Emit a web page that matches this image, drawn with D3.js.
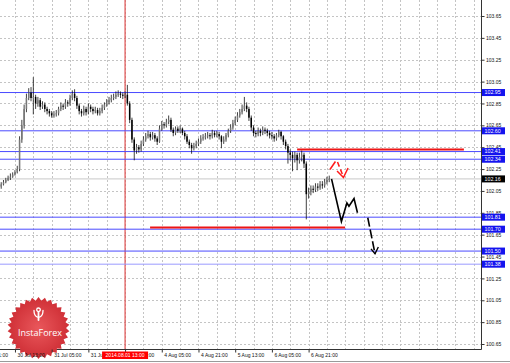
<!DOCTYPE html>
<html><head><meta charset="utf-8">
<script src="https://cdn.jsdelivr.net/npm/d3@7"></script>
<style>html,body{margin:0;padding:0;background:#fff;}svg{display:block;font-family:"Liberation Sans",Arial,sans-serif;}</style>
</head><body><svg id="c" width="510" height="363"></svg>
<script>
// ---- data ----
const firstOpen = 102.09;
const closes = [
102.11,102.13,102.15,102.17,102.18,102.20,102.22,102.25,
102.52,102.65,102.80,102.90,102.95,102.90,102.91,
102.85,102.88,102.82,102.84,102.80,102.78,
102.76,102.74,102.75,102.76,
102.80,102.83,102.82,102.86,102.85,102.90,102.94,102.90,102.83,102.78,102.76,
102.80,102.77,102.82,102.80,102.78,
102.79,102.76,102.78,102.81,
102.84,102.86,102.88,102.90,102.91,102.93,102.94,102.93,102.92,
102.93,102.85,102.70,102.52,102.42,
102.45,102.43,102.48,102.52,102.55,
102.57,102.54,102.56,102.53,102.50,
102.62,102.66,102.65,102.68,102.70,
102.61,102.58,102.62,102.60,102.62,102.58,
102.55,102.50,102.47,102.44,102.46,
102.48,102.50,102.53,102.54,102.55,102.56,102.55,
102.58,102.56,102.57,102.55,102.50,
102.52,102.56,102.60,102.63,102.67,
102.70,102.74,102.77,102.80,102.83,102.80,
102.72,102.63,102.58,
102.57,102.60,102.58,102.61,102.60,
102.58,102.56,102.55,102.53,102.56,102.59,
102.55,102.50,102.46,
102.40,102.38,102.35,102.38,102.33,102.36,
102.38,102.30,
102.02,
102.04,102.07,102.06,102.09,102.08,102.11,102.10,102.13,102.15,102.16];
const highs = [
102.13,102.15,102.17,102.19,102.21,102.22,102.24,102.28,
102.55,102.70,102.84,102.94,102.99,103.00,103.09,
102.93,102.91,102.90,102.87,102.86,102.82,
102.80,102.78,102.78,102.79,
102.82,102.86,102.85,102.89,102.88,102.93,102.97,102.98,102.92,102.85,102.80,
102.83,102.82,102.85,102.84,102.82,
102.82,102.81,102.81,102.84,
102.86,102.89,102.91,102.93,102.94,102.96,102.97,102.96,102.95,
102.96,103.02,102.87,102.72,102.54,
102.48,102.47,102.51,102.55,102.58,
102.60,102.59,102.59,102.58,102.55,
102.65,102.69,102.68,102.71,102.74,
102.72,102.63,102.64,102.64,102.65,102.63,
102.60,102.57,102.52,102.49,102.49,
102.51,102.53,102.56,102.57,102.58,102.59,102.58,
102.61,102.60,102.60,102.59,102.56,
102.55,102.58,102.62,102.66,102.70,
102.73,102.77,102.80,102.84,102.91,102.86,
102.82,102.74,102.65,
102.60,102.63,102.62,102.64,102.63,
102.62,102.60,102.59,102.57,102.58,102.61,
102.60,102.56,102.52,
102.48,102.43,102.41,102.41,102.40,102.40,
102.42,102.40,
102.32,
102.08,102.10,102.10,102.12,102.12,102.14,102.14,102.16,102.18,102.19];
const lows = [
102.07,102.10,102.12,102.14,102.15,102.17,102.19,102.21,
102.23,102.49,102.62,102.77,102.88,102.87,102.75,
102.80,102.82,102.79,102.80,102.77,102.75,
102.73,102.72,102.72,102.73,
102.74,102.78,102.79,102.80,102.82,102.83,102.88,102.87,102.80,102.75,102.73,
102.74,102.74,102.75,102.77,102.75,
102.76,102.74,102.74,102.76,
102.79,102.82,102.84,102.86,102.88,102.89,102.91,102.90,102.89,
102.90,102.83,102.67,102.49,102.33,
102.39,102.40,102.41,102.46,102.50,
102.53,102.51,102.52,102.50,102.47,
102.49,102.60,102.62,102.63,102.66,
102.59,102.55,102.56,102.58,102.58,102.56,
102.52,102.48,102.44,102.39,102.42,
102.44,102.46,102.48,102.51,102.52,102.53,102.52,
102.53,102.54,102.54,102.52,102.44,
102.48,102.50,102.54,102.58,102.61,
102.65,102.68,102.72,102.75,102.78,102.77,
102.69,102.60,102.55,
102.54,102.55,102.55,102.56,102.57,
102.55,102.53,102.52,102.50,102.51,102.54,
102.52,102.47,102.43,
102.30,102.33,102.23,102.31,102.24,102.30,
102.32,102.26,
101.79,
101.98,102.01,102.03,102.04,102.05,102.06,102.07,102.08,102.11,102.13];

const priceTicks = [100.65,100.85,101.05,101.25,101.45,101.65,101.85,102.05,102.25,102.45,102.65,102.85,103.05,103.25,103.45,103.65];
const timeTickIdx = [-10,6,22,38,54,70,86,102,118,134];
const timeTickLabels = ["29 Jul 21:00","30 Jul 13:00","31 Jul 05:00","31 Jul 21:00","1 Aug 13:00","4 Aug 05:00","4 Aug 21:00","5 Aug 13:00","6 Aug 05:00","6 Aug 21:00"];
const levelPrices = [102.95,102.60,102.41,102.34,101.81,101.70,101.50,101.38];
const levelColors = ["#4a4aff","#4a4aff","#4a4aff","#4a4aff","#4a4aff","#4a4aff","#4a4aff","#9a9aff"];
const bidPrice = 102.16;
const markerIdx = 54;
const markerLabel = "2014.08.01 13:00";
const redLevelPrices = [102.43, 101.715];
const redLevelStart = [129, 64.9];
const redLevelEnd = [201.7, 149.9];
const blackPathIdx = [144.0,148.3,150.7,151.6,153.8,155.3];
const blackPathPx  = [102.16,101.77,101.94,101.91,101.98,101.85];
const blackDashIdx = [159.8,162.95];
const blackDashPx  = [101.805,101.476];
const blackHeadIdx = [161.2,162.95,164.4];
const blackHeadPx  = [101.52,101.476,101.537];
const redStrokeIdx = [143.3,145.7];
const redStrokePx  = [102.246,102.319];
const redDashIdx = [146.6,149.2];
const redDashPx  = [102.315,102.177];
const redHeadIdx = [146.4,149.2,151.2];
const redHeadPx  = [102.232,102.173,102.26];

// ---- chart ----
const svg = d3.select("#c");
const plotR = 481, plotB = 349;
const x = d3.scaleLinear().domain([0,210]).range([1.2, 1.2 + 210*2.294]);
const y = d3.scaleLinear().domain([100.65,103.65]).range([344,16]);

const defs = svg.append("defs");
defs.append("clipPath").attr("id","plot").append("rect").attr("x",0).attr("y",0).attr("width",plotR).attr("height",plotB);
const rg = defs.append("radialGradient").attr("id","star");
rg.append("stop").attr("offset","0%").attr("stop-color","#e9575b");
rg.append("stop").attr("offset","100%").attr("stop-color","#cf2f36");

const plot = svg.append("g").attr("clip-path","url(#plot)");

// grid
plot.selectAll(".hg").data(priceTicks).enter().append("line")
  .attr("x1",0).attr("x2",plotR).attr("y1",d=>Math.round(y(d))+0.5).attr("y2",d=>Math.round(y(d))+0.5)
  .attr("stroke","#c4c4c4").attr("stroke-dasharray","2,2").attr("stroke-width",1);
const vIdx = d3.range(-2, 212, 8);
plot.selectAll(".vg").data(vIdx).enter().append("line")
  .attr("x1",d=>Math.round(x(d))+0.5).attr("x2",d=>Math.round(x(d))+0.5).attr("y1",0).attr("y2",plotB)
  .attr("stroke","#c4c4c4").attr("stroke-dasharray","2,2").attr("stroke-width",1);

// red vertical marker
plot.append("line").attr("x1",x(markerIdx)).attr("x2",x(markerIdx)).attr("y1",0).attr("y2",plotB)
  .attr("stroke","#e05050").attr("stroke-width",1.2);

// blue levels
plot.selectAll(".lvl").data(levelPrices).enter().append("line")
  .attr("x1",0).attr("x2",plotR).attr("y1",d=>y(d)).attr("y2",d=>y(d))
  .attr("stroke",(d,i)=>levelColors[i]).attr("stroke-width",1);
// bid line
plot.append("line").attr("x1",0).attr("x2",plotR).attr("y1",y(bidPrice)).attr("y2",y(bidPrice))
  .attr("stroke","#c8c8c8").attr("stroke-width",1);

// candles
const candles = closes.map((c,i)=>({i, o: i===0?firstOpen:closes[i-1], c, h: highs[i], l: lows[i]}));
const cg = plot.append("g");
cg.selectAll(".wick").data(candles).enter().append("line")
  .attr("x1",d=>x(d.i)).attr("x2",d=>x(d.i)).attr("y1",d=>y(d.h)).attr("y2",d=>y(d.l))
  .attr("stroke","#111").attr("stroke-width",0.8);
cg.selectAll(".body").data(candles).enter().append("rect")
  .attr("x",d=>x(d.i)-0.75).attr("width",1.5)
  .attr("y",d=>y(Math.max(d.o,d.c)))
  .attr("height",d=>Math.max(0.8, Math.abs(y(d.o)-y(d.c))))
  .attr("fill",d=>d.c>=d.o?"#777":"#000");

// red horizontal lines
plot.selectAll(".rl").data(redLevelPrices).enter().append("line")
  .attr("x1",(d,i)=>x(redLevelStart[i])).attr("x2",(d,i)=>x(redLevelEnd[i]))
  .attr("y1",d=>y(d)).attr("y2",d=>y(d))
  .attr("stroke","#ee1515").attr("stroke-width",2);

// arrows
const ln = (ix, px) => d3.line()(ix.map((v,k)=>[x(v), y(px[k])]));
plot.append("path").attr("d",ln(blackPathIdx,blackPathPx)).attr("fill","none").attr("stroke","#000").attr("stroke-width",1.6).attr("stroke-linejoin","miter");
plot.append("path").attr("d",ln(blackDashIdx,blackDashPx)).attr("fill","none").attr("stroke","#000").attr("stroke-width",1.6).attr("stroke-dasharray","9,3");
plot.append("path").attr("d",ln(blackHeadIdx,blackHeadPx)).attr("fill","none").attr("stroke","#000").attr("stroke-width",1.4);
plot.append("path").attr("d",ln(redStrokeIdx,redStrokePx)).attr("fill","none").attr("stroke","#ff1a1a").attr("stroke-width",1.5);
plot.append("path").attr("d",ln(redDashIdx,redDashPx)).attr("fill","none").attr("stroke","#ff1a1a").attr("stroke-width",1.5).attr("stroke-dasharray","5,3");
plot.append("path").attr("d",ln(redHeadIdx,redHeadPx)).attr("fill","none").attr("stroke","#ff1a1a").attr("stroke-width",1.5);

// axis lines
svg.append("line").attr("x1",plotR+0.5).attr("x2",plotR+0.5).attr("y1",0).attr("y2",plotB+0.5).attr("stroke","#333");
svg.append("line").attr("x1",0).attr("x2",plotR+0.5).attr("y1",plotB+0.5).attr("y2",plotB+0.5).attr("stroke","#333");
svg.append("line").attr("x1",0).attr("x2",510).attr("y1",361.5).attr("y2",361.5).attr("stroke","#9a9a9a");

// logo
const lc = [38.5, 328];
const nPts = 30;
const starPts = d3.range(nPts*2).map(k=>[k*Math.PI/nPts, k%2===0?31:27.5]);
const logo = svg.append("g").attr("transform",`translate(${lc[0]},${lc[1]})`);
logo.append("path").attr("d",d3.lineRadial().curve(d3.curveLinearClosed)(starPts)).attr("fill","url(#star)");
// emblem
const em = logo.append("g").attr("transform","translate(0,-15)").attr("fill","none").attr("stroke","#fff").attr("stroke-linecap","round");
em.append("circle").attr("cx",0).attr("cy",-3.2).attr("r",1.8).attr("stroke-width",1.3);
em.append("path").attr("d","M0,-0.5 L0,7").attr("stroke-width",1.8);
em.append("path").attr("d","M-4.5,-2.5 Q-4.5,3 -1,4").attr("stroke-width",1.3);
em.append("path").attr("d","M4.5,-2.5 Q4.5,3 1,4").attr("stroke-width",1.3);
logo.append("text").attr("x",1.5).attr("y",8).attr("text-anchor","middle")
  .attr("font-family","'Open Sans',sans-serif").attr("font-size",9).attr("fill","#fff").text("InstaForex");

// price axis
const ya = svg.append("g").attr("transform",`translate(${plotR+0.5},0)`)
  .call(d3.axisRight(y).tickValues(priceTicks).tickSize(3).tickFormat(d3.format(".2f")));
ya.select(".domain").remove();
ya.selectAll("line").attr("stroke","#333");
ya.selectAll("text").attr("x",4.5).attr("font-size",5).attr("fill","#111").attr("font-family","'Liberation Sans',Arial,sans-serif");

// level labels
const lab = svg.append("g");
lab.selectAll(".lb").data(levelPrices).enter().append("rect")
  .attr("x",plotR+1).attr("y",d=>y(d)-3.5).attr("width",23).attr("height",7).attr("fill","#1414ee");
lab.selectAll(".lt").data(levelPrices).enter().append("text")
  .attr("x",plotR+3.5).attr("y",d=>y(d)+1.9).attr("font-size",5.3).attr("fill","#fff").text(d=>d3.format(".2f")(d));
lab.append("rect").attr("x",plotR+1).attr("y",y(bidPrice)-3.5).attr("width",23).attr("height",7).attr("fill","#000");
lab.append("text").attr("x",plotR+3.5).attr("y",y(bidPrice)+1.9).attr("font-size",5.3).attr("fill","#fff").text(d3.format(".2f")(bidPrice));

// time axis
const xa = svg.append("g").attr("transform",`translate(0,${plotB+0.5})`)
  .call(d3.axisBottom(x).tickValues(timeTickIdx).tickSize(3).tickFormat((d,i)=>timeTickLabels[i]));
xa.select(".domain").remove();
xa.selectAll("line").attr("stroke","#333");
xa.selectAll("text").attr("text-anchor","start").attr("x",2).attr("y",7.5).attr("dy",0)
  .attr("font-size",5).attr("fill","#111").attr("font-family","'Liberation Sans',Arial,sans-serif");

// marker label
svg.append("rect").attr("x",x(markerIdx)-23).attr("y",351.5).attr("width",46).attr("height",7.5).attr("fill","#f00");
svg.append("text").attr("x",x(markerIdx)).attr("y",357).attr("text-anchor","middle").attr("font-size",5).attr("fill","#fff").text(markerLabel);
</script></body></html>
